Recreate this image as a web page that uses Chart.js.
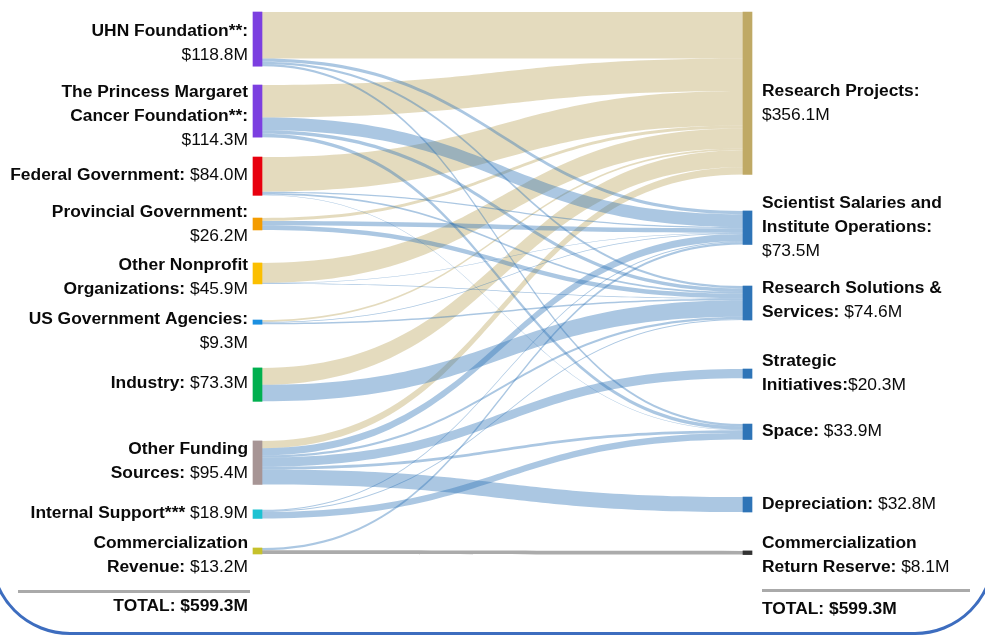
<!DOCTYPE html>
<html>
<head>
<meta charset="utf-8">
<style>
html,body{margin:0;padding:0;background:#fff;overflow:hidden;}
#wrap{position:relative;width:985px;height:635px;overflow:hidden;background:#fff;}
#frame{position:absolute;left:-10px;top:-100px;width:1005px;height:735px;box-sizing:border-box;border:3px solid #3d6dbf;border-radius:80px;}
#myChart{position:absolute;left:0;top:0;}
</style>
</head>
<body>
<div id="wrap">
  <div id="frame"></div>
  <canvas id="myChart" width="985" height="635"></canvas>
</div>
<script src="https://cdn.jsdelivr.net/npm/chart.js"></script>
<script>
// funding sources (left) and uses (right), $M
var sources = ['UHN Foundation', 'The Princess Margaret Cancer Foundation', 'Federal Government', 'Provincial Government',
    'Other Nonprofit Organizations', 'US Government Agencies', 'Industry', 'Other Funding Sources', 'Internal Support', 'Commercialization Revenue'];
var sourceValues = [118.8, 114.3, 84.0, 26.2, 45.9, 9.3, 73.3, 95.4, 18.9, 13.2];

var targets = ['Research Projects', 'Scientist Salaries and Institute Operations', 'Research Solutions & Services',
    'Strategic Initiatives', 'Space', 'Depreciation', 'Commercialization Return Reserve'];
var targetValues = [356.1, 73.5, 74.6, 20.3, 33.9, 32.8, 8.1];

var total = 599.3;

// flows: one row per source, one column per target
var flows = [
    [102.0, 7.0, 5.0, 0, 4.8, 0, 0],
    [71.0, 28.0, 8.0, 0, 7.3, 0, 0],
    [76.0, 3.0, 3.5, 0, 1.5, 0, 0],
    [6.5, 9.7, 10.0, 0, 0, 0, 0],
    [43.6, 1.0, 1.3, 0, 0, 0, 0],
    [4.0, 2.0, 3.3, 0, 0, 0, 0],
    [37.0, 0, 36.3, 0, 0, 0, 0],
    [16.0, 15.5, 5.0, 20.3, 5.8, 32.8, 0],
    [0, 2.2, 2.2, 0, 14.5, 0, 0],
    [0, 5.1, 0, 0, 0, 0, 8.1]
];

// label lines: bold part | regular part, {v} is the node value
var sourceLabels = [
    ['UHN Foundation**:|', '|{v}'],
    ['The Princess Margaret|', 'Cancer Foundation**:|', '|{v}'],
    ['Federal Government: |{v}'],
    ['Provincial Government:|', '|{v}'],
    ['Other Nonprofit|', 'Organizations: |{v}'],
    ['US Government Agencies:|', '|{v}'],
    ['Industry: |{v}'],
    ['Other Funding|', 'Sources: |{v}'],
    ['Internal Support*** |{v}'],
    ['Commercialization|', 'Revenue: |{v}']
];
var targetLabels = [
    ['Research Projects:|', '|{v}'],
    ['Scientist Salaries and|', 'Institute Operations:|', '|{v}'],
    ['Research Solutions &|', 'Services: |{v}'],
    ['Strategic|', 'Initiatives:|{v}'],
    ['Space: |{v}'],
    ['Depreciation: |{v}'],
    ['Commercialization|', 'Return Reserve: |{v}']
];

// layout (vertical axis is in $M units, gaps included)
var sourceTop = [0, 160, 317.8, 451.5, 550, 675, 780, 940, 1091, 1174.6];
var targetTop = [0, 436, 600.5, 782.4, 903, 1063, 1181];
var sourceLabelShift = [4, 5, -1, 0, 4, 9, -1, -1, -1, 4];
var targetLabelShift = [10, -1, -3, 0, -1, 0, 2];

var sourceColors = ['#7c3fe0', '#7c3fe0', '#e8000e', '#f49c00', '#fbbf00', '#1b8fe0', '#00b04f', '#a79595', '#1dc2d2', '#c6c12b'];
var targetColors = ['#bfa965', '#2e74b7', '#2e74b7', '#2e74b7', '#2e74b7', '#2e74b7', '#333333'];

var FONT = 'Arial, "Liberation Sans", sans-serif';
var FSIZE = '17.4px ';
var NODE_W = 9;

// node bars as floating bars
var datasets = [];
sources.forEach(function(name, i) {
    datasets.push({
        label: name,
        data: [{x: 0, y: [sourceTop[i], sourceTop[i] + sourceValues[i]]}],
        backgroundColor: sourceColors[i]
    });
});
targets.forEach(function(name, j) {
    datasets.push({
        label: name,
        data: [{x: 1, y: [targetTop[j], targetTop[j] + targetValues[j]]}],
        backgroundColor: targetColors[j]
    });
});

function linkColor(j) {
    if (j == 0) return 'rgba(191,169,101,0.42)';
    if (j == targets.length - 1) return 'rgba(150,150,150,0.8)';
    return 'rgba(46,116,183,0.4)';
}

// flows between the two columns
var linksPlugin = {
    id: 'links',
    beforeDatasetsDraw: function(chart) {
        var ctx = chart.ctx, xs = chart.scales.x, ys = chart.scales.y;
        var x0 = xs.getPixelForValue(0) + NODE_W / 2;
        var x1 = xs.getPixelForValue(1) - NODE_W / 2;
        var xm = (x0 + x1) / 2;
        var outOff = sourceTop.slice(), inOff = targetTop.slice();
        var shapes = [];
        for (var i = 0; i < sources.length; i++) {
            for (var j = 0; j < targets.length; j++) {
                var v = flows[i][j];
                if (!v) continue;
                shapes.push({
                    j: j,
                    a0: ys.getPixelForValue(outOff[i]), a1: ys.getPixelForValue(outOff[i] + v),
                    b0: ys.getPixelForValue(inOff[j]), b1: ys.getPixelForValue(inOff[j] + v)
                });
                outOff[i] += v;
                inOff[j] += v;
            }
        }
        ctx.save();
        // tan first, blue on top
        [true, false].forEach(function(first) {
            shapes.forEach(function(s) {
                if ((s.j == 0) != first) return;
                ctx.fillStyle = linkColor(s.j);
                ctx.beginPath();
                ctx.moveTo(x0, s.a0);
                ctx.bezierCurveTo(xm, s.a0, xm, s.b0, x1, s.b0);
                ctx.lineTo(x1, s.b1);
                ctx.bezierCurveTo(xm, s.b1, xm, s.a1, x0, s.a1);
                ctx.closePath();
                ctx.fill();
            });
        });
        ctx.restore();
    }
};

function money(v) {
    return '$' + v.toFixed(1) + 'M';
}

function drawLine(ctx, line, x, y, alignRight, value) {
    var parts = line.replace('{v}', money(value)).split('|');
    ctx.font = 'bold ' + FSIZE + FONT;
    var wb = ctx.measureText(parts[0]).width;
    ctx.font = FSIZE + FONT;
    var wr = ctx.measureText(parts[1]).width;
    var start = alignRight ? x - wb - wr : x;
    ctx.textAlign = 'left';
    ctx.font = 'bold ' + FSIZE + FONT;
    ctx.fillText(parts[0], start, y);
    ctx.font = FSIZE + FONT;
    ctx.fillText(parts[1], start + wb, y);
}

// node labels and totals
var labelsPlugin = {
    id: 'nodeLabels',
    afterDraw: function(chart) {
        var ctx = chart.ctx, ys = chart.scales.y;
        ctx.save();
        ctx.fillStyle = '#0a0a0a';
        ctx.textBaseline = 'middle';
        sources.forEach(function(n, i) {
            var lines = sourceLabels[i];
            var cy = ys.getPixelForValue(sourceTop[i] + sourceValues[i] / 2) + sourceLabelShift[i];
            lines.forEach(function(l, k) {
                drawLine(ctx, l, 248, cy + (k - (lines.length - 1) / 2) * 24, true, sourceValues[i]);
            });
        });
        targets.forEach(function(n, j) {
            var lines = targetLabels[j];
            var cy = ys.getPixelForValue(targetTop[j] + targetValues[j] / 2) + targetLabelShift[j];
            lines.forEach(function(l, k) {
                drawLine(ctx, l, 762, cy + (k - (lines.length - 1) / 2) * 24, false, targetValues[j]);
            });
        });
        // totals
        ctx.fillStyle = '#aaaaaa';
        ctx.fillRect(18, 590, 232, 3);
        ctx.fillRect(762, 589, 208, 3);
        ctx.fillStyle = '#0a0a0a';
        ctx.font = 'bold ' + FSIZE + FONT;
        ctx.textAlign = 'right';
        ctx.fillText('TOTAL: ' + money(total), 248, 606);
        ctx.textAlign = 'left';
        ctx.fillText('TOTAL: ' + money(total), 762, 609);
        ctx.restore();
    }
};

var ctx = document.getElementById('myChart').getContext('2d');
var myChart = new Chart(ctx, {
    type: 'bar',
    data: {datasets: datasets},
    options: {
        responsive: false,
        animation: false,
        layout: {padding: {left: 257.5, right: 237.5, top: 12, bottom: 80}},
        plugins: {legend: {display: false}, tooltip: {enabled: false}},
        datasets: {bar: {barThickness: NODE_W, grouped: false, clip: false, borderWidth: 0}},
        scales: {
            x: {type: 'linear', min: 0, max: 1, offset: false, display: false},
            y: {min: 0, max: 1190, reverse: true, display: false}
        }
    },
    plugins: [linksPlugin, labelsPlugin]
});
</script>
</body>
</html>
